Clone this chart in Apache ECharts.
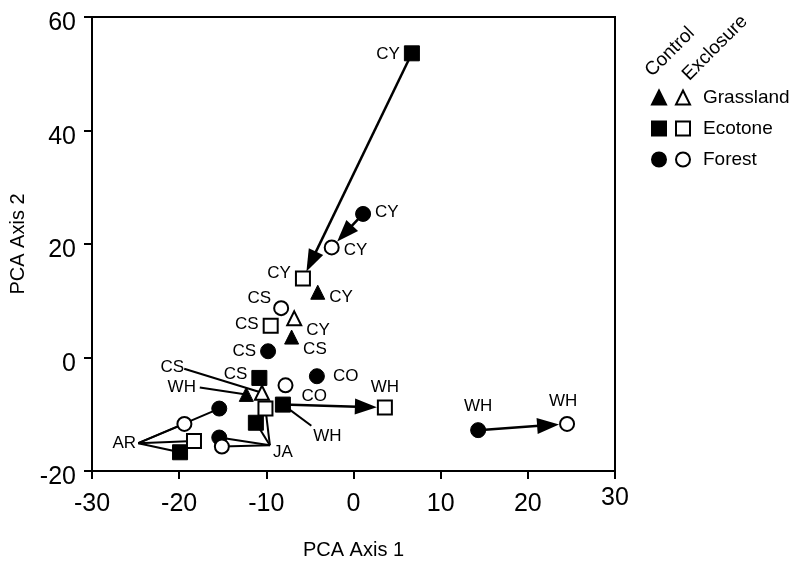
<!DOCTYPE html>
<html><head><meta charset="utf-8">
<script src="https://cdn.jsdelivr.net/npm/echarts@6/dist/echarts.min.js"></script>
<style>html,body{margin:0;padding:0;background:#fff}#c{width:806px;height:564px}</style>
</head><body><div id="c"></div>
<script>
// ---------------- DATA ----------------
const xTicks = [-30, -20, -10, 0, 10, 20, 30];
const yTicks = [-20, 0, 20, 40, 60];
// [PCA axis 1, PCA axis 2, site]
const grassControl   = [[-4.1, 11.5, 'CY'], [-7.1, 3.6, 'CS'], [-12.3, -6.5, 'WH']];
const grassExclosure = [[-6.8, 6.9, 'CY'], [-10.5, -6.2, 'CS']];
const ecoControl     = [[6.7, 53.6, 'CY'], [-10.8, -3.6, 'CS'], [-8.1, -8.3, 'WH'], [-11.2, -11.5, 'JA'], [-19.9, -16.7, 'AR']];
const ecoExclosure   = [[-5.8, 13.9, 'CY'], [-9.5, 5.6, 'CS'], [3.6, -8.8, 'WH'], [-10.1, -9.0, 'JA'], [-18.3, -14.7, 'AR']];
const forControl     = [[1.1, 25.3, 'CY'], [-9.8, 1.1, 'CS'], [-4.2, -3.3, 'CO'], [14.3, -12.8, 'WH'], [-15.4, -9.0, 'AR'], [-15.4, -14.1, 'JA']];
const forExclosure   = [[-2.5, 19.4, 'CY'], [-8.3, 8.7, 'CS'], [-7.8, -4.9, 'CO'], [24.5, -11.7, 'WH'], [-19.4, -11.7, 'AR'], [-15.1, -15.7, 'JA']];
// arrows: control -> exclosure
const arrows = [
  ['ecoControl', 'CY', 'ecoExclosure', 'CY'],
  ['forControl', 'CY', 'forExclosure', 'CY'],
  ['ecoControl', 'WH', 'ecoExclosure', 'WH'],
  ['forControl', 'WH', 'forExclosure', 'WH']
];
// callout labels and the points they point to
const calloutTexts = ['AR', 'JA', 'CS', 'WH', 'WH'];
const calloutTargets = [
  [['forControl', 'AR'], ['forExclosure', 'AR'], ['ecoExclosure', 'AR'], ['ecoControl', 'AR']],
  [['ecoExclosure', 'JA'], ['ecoControl', 'JA'], ['forControl', 'JA'], ['forExclosure', 'JA']],
  [['grassExclosure', 'CS']],
  [['grassControl', 'WH']],
  [['ecoControl', 'WH']]
];

// ---------------- LAYOUT / STYLE ----------------
const FONT = 'Liberation Sans, Arial, Helvetica, sans-serif';
const LABEL_SIZE = 17;
const calloutAnchor = [[-26.3, -15.1], [-8.1, -16.7], [-20.8, -1.8], [-19.7, -5.3], [-3.0, -13.8]];
const calloutLineOffset = [[14, 0], [-13, -7], [12, 1], [18, 0], [-16, -10]];
const labelPlace = {
  'grassControl|CY': ['right', [0, 5]], 'grassControl|CS': ['right', [0, 12]],
  'grassExclosure|CY': ['right', [0, 12]],
  'ecoControl|CY': ['left', [0, 1]], 'ecoControl|CS': ['left', [0, -4]],
  'ecoExclosure|CY': ['left', [0, -5]], 'ecoExclosure|CS': ['left', [0, -1]], 'ecoExclosure|WH': ['top', [0, 0]],
  'forControl|CY': ['right', [0, -2]], 'forControl|CS': ['left', [0, 0]], 'forControl|CO': ['right', [4, 0]], 'forControl|WH': ['top', [0, -3]],
  'forExclosure|CY': ['right', [0, 3]], 'forExclosure|CS': ['left', [2, -10]], 'forExclosure|CO': ['right', [4, 11]], 'forExclosure|WH': ['top', [-4, -2]]
};

const groups = { grassControl, grassExclosure, ecoControl, ecoExclosure, forControl, forExclosure };
function findPt(g, s) { return groups[g].find(p => p[2] === s); }

const seriesDefs = [
  ['grassControl', 'Grassland Control', 'triangle', true, 14],
  ['ecoControl', 'Ecotone Control', 'rect', true, 15],
  ['forControl', 'Forest Control', 'circle', true, 15],
  ['grassExclosure', 'Grassland Exclosure', 'triangle', false, 14],
  ['ecoExclosure', 'Ecotone Exclosure', 'rect', false, 14],
  ['forExclosure', 'Forest Exclosure', 'circle', false, 14]
];

const scatterSeries = seriesDefs.map(([key, name, sym, filled, size]) => ({
  type: 'scatter', name, symbol: sym, symbolSize: size, z: 5,
  itemStyle: filled ? { color: '#000', borderColor: '#000', borderWidth: 1, opacity: 1 }
                    : { color: '#fff', borderColor: '#000', borderWidth: 2, opacity: 1 },
  emphasis: { disabled: true },
  data: groups[key].map(p => {
    const pl = labelPlace[key + '|' + p[2]];
    const item = { value: [p[0], p[1]], name: p[2] };
    item.label = pl ? { show: true, position: pl[0], offset: pl[1], distance: 4, formatter: p[2],
      color: '#000', fontSize: LABEL_SIZE, fontFamily: FONT } : { show: false };
    return item;
  })
}));

const arrowSeries = {
  type: 'custom', z: 3, silent: true,
  encode: { x: [0, 2], y: [1, 3] },
  data: arrows.map(a => { const p = findPt(a[0], a[1]), q = findPt(a[2], a[3]); return [p[0], p[1], q[0], q[1]]; }),
  renderItem(params, api) {
    const p1 = api.coord([api.value(0), api.value(1)]);
    const p2 = api.coord([api.value(2), api.value(3)]);
    const dx = p2[0] - p1[0], dy = p2[1] - p1[1];
    const len = Math.sqrt(dx * dx + dy * dy);
    const ux = dx / len, uy = dy / len, px = -uy, py = ux;
    const r = 8, L = 22, W = 8;
    const tip = [p2[0] - ux * r, p2[1] - uy * r];
    const base = [tip[0] - ux * L, tip[1] - uy * L];
    return { type: 'group', children: [
      { type: 'line', shape: { x1: p1[0], y1: p1[1], x2: base[0] + ux * 2, y2: base[1] + uy * 2 }, style: { stroke: '#000', lineWidth: 2.5 } },
      { type: 'polygon', shape: { points: [tip, [base[0] + px * W, base[1] + py * W], [base[0] - px * W, base[1] - py * W]] }, style: { fill: '#000' } }
    ]};
  }
};

const calloutSeries = {
  type: 'custom', z: 2, silent: true,
  encode: { x: 0, y: 1 },
  data: calloutTexts.map((t, i) => [calloutAnchor[i][0], calloutAnchor[i][1], i]),
  renderItem(params, api) {
    const i = api.value(2);
    const p = api.coord([api.value(0), api.value(1)]);
    const a = [p[0] + calloutLineOffset[i][0], p[1] + calloutLineOffset[i][1]];
    const children = calloutTargets[i].map(t => {
      const q = findPt(t[0], t[1]);
      const qp = api.coord([q[0], q[1]]);
      return { type: 'line', shape: { x1: a[0], y1: a[1], x2: qp[0], y2: qp[1] }, style: { stroke: '#000', lineWidth: 2 } };
    });
    children.push({ type: 'text', x: p[0], y: p[1], style: { text: calloutTexts[i], fontSize: LABEL_SIZE, fontFamily: FONT, fill: '#000', align: 'center', verticalAlign: 'middle' } });
    return { type: 'group', children };
  }
};

const xMax = xTicks[xTicks.length - 1];
const chart = echarts.init(document.getElementById('c'), null, { renderer: 'canvas' });
chart.setOption({
  animation: false,
  backgroundColor: '#fff',
  grid: { left: 92, right: 191, top: 17, bottom: 93, show: true, borderColor: '#000', borderWidth: 2, backgroundColor: 'transparent', outerBoundsMode: 'none', containLabel: false },
  xAxis: {
    type: 'value', min: xTicks[0], max: xMax, interval: 10,
    name: 'PCA Axis 1', nameLocation: 'middle', nameGap: 69,
    nameTextStyle: { fontSize: 20, fontFamily: FONT, color: '#000' },
    axisLine: { show: true, onZero: false, lineStyle: { color: '#000', width: 2 } },
    axisTick: { show: true, inside: false, length: 8, lineStyle: { color: '#000', width: 2 } },
    axisLabel: { fontSize: 25, fontFamily: FONT, color: '#000', margin: 21, showMinLabel: true, showMaxLabel: true,
      formatter: v => v === xMax ? '{hi|' + v + '}' : String(v),
      rich: { hi: { fontSize: 25, fontFamily: FONT, color: '#000', lineHeight: 13 } } },
    splitLine: { show: false }
  },
  yAxis: {
    type: 'value', min: yTicks[0], max: yTicks[yTicks.length - 1], interval: 20,
    name: 'PCA Axis 2', nameLocation: 'middle', nameGap: 50,
    nameTextStyle: { fontSize: 20, fontFamily: FONT, color: '#000' },
    axisLine: { show: true, onZero: false, lineStyle: { color: '#000', width: 2 } },
    axisTick: { show: true, inside: false, length: 8, lineStyle: { color: '#000', width: 2 } },
    axisLabel: { fontSize: 25, fontFamily: FONT, color: '#000', margin: 16, verticalAlign: 'top', lineHeight: 13, showMinLabel: true, showMaxLabel: true },
    splitLine: { show: false }
  },
  legend: [
    { data: ['Grassland Control', 'Ecotone Control', 'Forest Control'], orient: 'vertical', left: 651, top: 88, padding: 0,
      itemWidth: 14, itemHeight: 14, itemGap: 12, selectedMode: false, formatter: () => ' ',
      textStyle: { fontSize: 19, lineHeight: 18, fontFamily: FONT, color: '#000' } },
    { data: ['Grassland Exclosure', 'Ecotone Exclosure', 'Forest Exclosure'], orient: 'vertical', left: 675, top: 88, padding: 0,
      itemWidth: 14, itemHeight: 14, itemGap: 12, selectedMode: false, formatter: n => n.split(' ')[0],
      textStyle: { fontSize: 19, lineHeight: 18, fontFamily: FONT, color: '#000', padding: [0, 0, 0, 8] } }
  ],
  graphic: [
    { type: 'text', x: 670, y: 52, rotation: Math.PI / 4, style: { text: 'Control', fontSize: 19, fontFamily: FONT, fill: '#000', align: 'center', verticalAlign: 'middle' } },
    { type: 'text', x: 715, y: 48, rotation: Math.PI / 4, style: { text: 'Exclosure', fontSize: 19, fontFamily: FONT, fill: '#000', align: 'center', verticalAlign: 'middle' } }
  ],
  series: [calloutSeries, arrowSeries].concat(scatterSeries)
});
</script>
</body></html>
